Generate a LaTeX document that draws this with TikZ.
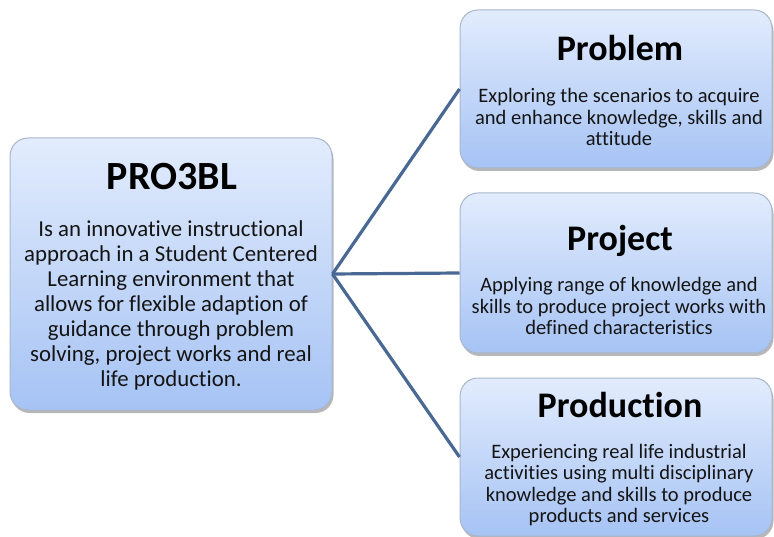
\documentclass[tikz,border=0pt]{standalone}
\usepackage{fontspec}
\setmainfont{Carlito}[Ligatures={NoCommon}]
\usetikzlibrary{shadows}
\definecolor{boxtop}{HTML}{E2ECFD}
\definecolor{boxbot}{HTML}{A6C3F4}
\definecolor{boxline}{HTML}{A9B6CB}
\definecolor{conn}{HTML}{4A6894}
\definecolor{txt}{HTML}{141414}
\begin{document}
\begin{tikzpicture}[x=1pt,y=-1pt,
  card/.style={draw=boxline, line width=1pt, rounded corners=18pt,
    top color=boxtop, bottom color=boxbot, inner sep=0pt,
    drop shadow={shadow xshift=1.5pt, shadow yshift=-3pt, opacity=0.4, fill=black!70}},
  bigtitle/.style={font=\fontsize{40}{44}\selectfont\bfseries, text=black, inner sep=0pt},
  subtitle/.style={font=\fontsize{36}{40}\selectfont\bfseries, text=black, inner sep=0pt},
  leftbody/.style={font=\fontsize{22.8}{25}\selectfont, align=center, text=txt, inner sep=0pt},
  rightbody/.style={font=\fontsize{20.5}{21.5}\selectfont, align=center, text=txt, inner sep=0pt},
  link/.style={draw=conn, line width=3.2pt}]
\useasboundingbox (0,0) rectangle (774,537);
\node[card, minimum width=322pt, minimum height=272pt] (main) at (171,274) {};
\node[card, minimum width=312pt, minimum height=158pt] (prob) at (616,89) {};
\node[card, minimum width=312pt, minimum height=160pt] (proj) at (616,273) {};
\node[card, minimum width=312pt, minimum height=158pt] (prod) at (616,457) {};
\draw[link] (main.east) -- (prob.west);
\draw[link] (main.east) -- (proj.west);
\draw[link] (main.east) -- (prod.west);
\node[bigtitle] (maint) at (172,177) {PRO3BL};
\node[leftbody] (mainb) at (171,305) {Is an innovative instructional\\approach in a Student Centered\\Learning environment that\\allows for flexible adaption of\\guidance through problem\\solving, project works and real\\life production.};
\node[subtitle] (probt) at (620,48) {Problem};
\node[rightbody] (probb) at (619,117) {Exploring the scenarios to acquire\\and enhance knowledge, skills and\\attitude};
\node[subtitle] (projt) at (620,241) {Project};
\node[rightbody] (projb) at (619,306) {Applying range of knowledge and\\skills to produce project works with\\defined characteristics};
\node[subtitle] (prodt) at (620,405) {Production};
\node[rightbody] (prodb) at (619,485) {Experiencing real life industrial\\activities using multi disciplinary\\knowledge and skills to produce\\products and services};
\end{tikzpicture}
\end{document}
